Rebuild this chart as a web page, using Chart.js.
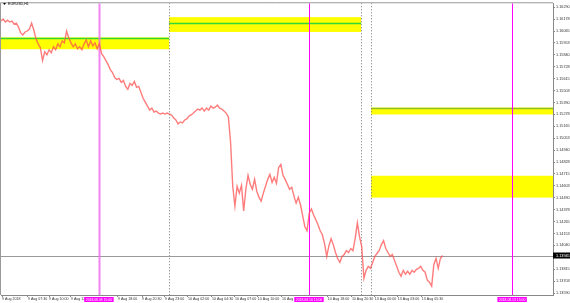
<!DOCTYPE html>
<html><head><meta charset="utf-8">
<script src="https://cdn.jsdelivr.net/npm/chart.js@4/dist/chart.umd.min.js"></script>
<style>html,body{margin:0;padding:0;background:#fff;overflow:hidden}#wrap{width:570px;height:303px;position:relative}</style>
</head><body><div id="wrap"><canvas id="c" width="570" height="303"></canvas></div>
<script>
const symbolTitle = "EURUSD,H1";
const closes = [
1.16159,1.16178,1.16150,1.16168,1.16150,1.16159,1.16131,1.16140,1.16103,1.16047,
1.16028,1.16056,1.16065,1.16084,1.16140,1.16075,1.15991,1.15944,1.15907,1.15785,
1.15869,1.15841,1.15888,1.15860,1.15916,1.15888,1.15944,1.15916,1.15972,1.15953,
1.16065,1.16000,1.15953,1.15916,1.15944,1.15897,1.15916,1.15888,1.15944,1.15981,
1.15916,1.15972,1.15925,1.15953,1.15897,1.15944,1.15851,1.15823,1.15785,1.15748,
1.15701,1.15673,1.15626,1.15608,1.15617,1.15580,1.15598,1.15542,1.15514,1.15570,
1.15552,1.15589,1.15533,1.15542,1.15486,1.15430,1.15393,1.15356,1.15318,1.15337,
1.15300,1.15309,1.15290,1.15281,1.15290,1.15281,1.15290,1.15281,1.15272,1.15244,
1.15225,1.15188,1.15206,1.15197,1.15225,1.15234,1.15262,1.15272,1.15290,1.15309,
1.15328,1.15318,1.15337,1.15309,1.15337,1.15318,1.15356,1.15337,1.15346,1.15365,
1.15337,1.15328,1.15309,1.15290,1.15253,1.15019,1.14599,1.14412,1.14599,1.14534,
1.14608,1.14366,1.14571,1.14702,1.14618,1.14571,1.14664,1.14552,1.14496,1.14459,
1.14534,1.14599,1.14664,1.14711,1.14636,1.14683,1.14627,1.14777,1.14805,1.14702,
1.14664,1.14618,1.14571,1.14590,1.14506,1.14440,1.14496,1.14422,1.14319,1.14216,
1.14179,1.14347,1.14384,1.14328,1.14282,1.14235,1.14179,1.14141,1.14057,1.13936,
1.14039,1.14104,1.14048,1.13973,1.13917,1.13880,1.13936,1.13955,1.13992,1.13973,
1.14011,1.13992,1.14104,1.14254,1.14123,1.14029,1.13730,1.13805,1.13843,1.13824,
1.13880,1.13936,1.13964,1.13992,1.14048,1.14085,1.14011,1.13973,1.13936,1.13955,
1.13899,1.13843,1.13787,1.13749,1.13805,1.13768,1.13796,1.13768,1.13805,1.13787,
1.13815,1.13824,1.13843,1.13805,1.13787,1.13712,1.13693,1.13656,1.13861,1.13917,
1.13824,1.13917,1.13945
];
const currentPrice = 1.13945;
const yTickValues = [1.16290,1.16178,1.16065,1.15953,1.15840,1.15728,1.15615,1.15503,1.15390,1.15278,
  1.15165,1.15053,1.14940,1.14828,1.14715,1.14603,1.14490,1.14378,1.14265,1.14153,1.14040,1.13928,1.13815,1.13703,1.13590];
const xTickBars = [0.5,12.3,22,32,53.5,64.5,75,85.5,96.5,107,117.5,128.5,149.5,160.5,171,181.5,192.5];
const xTickLabels = ["9 Aug 2018","9 Aug 07:30","9 Aug 10:00","9 Aug 12:30","9 Aug 18:00","9 Aug 20:30","9 Aug 23:00",
  "10 Aug 02:00","10 Aug 04:30","10 Aug 07:00","10 Aug 10:00","10 Aug 12:30","10 Aug 18:00","10 Aug 20:30",
  "13 Aug 00:00","13 Aug 03:00","13 Aug 05:30"];
const markerBars = [44.8, 140.9, 233.8];
const markerLabels = ["2018.08.09 15:00","2018.08.10 15:00","2018.08.13 15:00"];
const separatorBars = [76.9, 164.7, 169.3];
const zoneStartBars = [-1, 76.9, 169.3, 169.3];
const zoneEndBars = [76.9, 164.7, 253, 253];
const zoneHighs = [1.16005, 1.16196, 1.15342, 1.14698];
const zoneLows = [1.15893, 1.16056, 1.15277, 1.14492];
const zoneLevels = [1.16000, 1.16140, 1.15338, null];

const FONT = "'Liberation Sans', Arial, sans-serif";

const overlay = {
  id: 'overlay',
  beforeDatasetsDraw(chart) {
    const {ctx, chartArea: a, scales: {x, y}} = chart;
    ctx.save();
    ctx.beginPath(); ctx.rect(a.left, a.top, a.right - a.left, a.bottom - a.top); ctx.clip();
    for (let i = 0; i < zoneHighs.length; i++) {
      const x0 = x.getPixelForValue(zoneStartBars[i]), x1 = x.getPixelForValue(zoneEndBars[i]);
      const y0 = y.getPixelForValue(zoneHighs[i]), y1 = y.getPixelForValue(zoneLows[i]);
      ctx.fillStyle = '#ffff00';
      ctx.fillRect(x0, y0, x1 - x0, y1 - y0);
      if (zoneLevels[i] !== null) {
        const yl = Math.round(y.getPixelForValue(zoneLevels[i])) + 0.5;
        ctx.strokeStyle = i === 2 ? '#8fbf20' : '#33d633';
        ctx.lineWidth = 1.5;
        ctx.beginPath(); ctx.moveTo(x0, yl); ctx.lineTo(x1, yl); ctx.stroke();
      }
    }
    ctx.strokeStyle = '#777'; ctx.lineWidth = 1; ctx.setLineDash([1, 2]);
    separatorBars.forEach(b => {
      const px = Math.round(x.getPixelForValue(b)) + 0.5;
      ctx.beginPath(); ctx.moveTo(px, a.top); ctx.lineTo(px, a.bottom); ctx.stroke();
    });
    ctx.setLineDash([]);
    const yc = Math.round(y.getPixelForValue(currentPrice)) + 0.5;
    ctx.strokeStyle = '#999'; ctx.lineWidth = 1;
    ctx.beginPath(); ctx.moveTo(a.left, yc); ctx.lineTo(a.right, yc); ctx.stroke();
    markerBars.forEach((b, i) => {
      const px = Math.round(x.getPixelForValue(b)) + 0.5;
      ctx.strokeStyle = i === 0 ? 'rgba(240,110,240,0.85)' : '#ff00ff';
      ctx.lineWidth = i === 0 ? 2 : 1;
      ctx.beginPath(); ctx.moveTo(px, a.top); ctx.lineTo(px, a.bottom); ctx.stroke();
    });
    ctx.restore();
  },
  afterDraw(chart) {
    const {ctx, chartArea: a, scales: {x, y}} = chart;
    ctx.save();
    ctx.strokeStyle = '#999'; ctx.lineWidth = 1;
    ctx.beginPath(); ctx.moveTo(a.left - 0.5, a.bottom); ctx.lineTo(a.left - 0.5, a.top - 0.5); ctx.lineTo(a.right, a.top - 0.5); ctx.stroke();
    ctx.fillStyle = '#000';
    ctx.font = "3.6px " + FONT;
    ctx.textBaseline = 'middle'; ctx.textAlign = 'left';
    ctx.beginPath(); ctx.moveTo(3, 3); ctx.lineTo(6, 3); ctx.lineTo(4.5, 5); ctx.closePath(); ctx.fill();
    ctx.fillText(symbolTitle, 8, 4.2);
    ctx.font = "3.4px " + FONT;
    ctx.textAlign = 'center';
    markerBars.forEach((b, i) => {
      const px = x.getPixelForValue(b);
      const w = ctx.measureText(markerLabels[i]).width + 3;
      ctx.fillStyle = '#ff00ff';
      ctx.fillRect(px - w / 2, a.bottom + 2, w, 5);
      ctx.fillStyle = '#fff';
      ctx.fillText(markerLabels[i], px, a.bottom + 4.6);
    });
    const yc = y.getPixelForValue(currentPrice);
    ctx.fillStyle = '#000';
    ctx.fillRect(a.right, yc - 3, 570 - a.right, 6);
    ctx.fillStyle = '#fff'; ctx.textAlign = 'left'; ctx.font = "3.8px " + FONT;
    ctx.fillText(currentPrice.toFixed(5), a.right + 3, yc + 0.2);
    ctx.restore();
  }
};

new Chart(document.getElementById('c'), {
  type: 'line',
  data: {
    datasets: [{
      data: closes.map((v, i) => ({x: i, y: v})),
      borderColor: 'rgba(255,80,80,0.75)',
      borderWidth: 1.4,
      pointRadius: 0,
      tension: 0,
      fill: false
    }]
  },
  options: {
    responsive: false,
    animation: false,
    devicePixelRatio: 1,
    layout: {padding: {left: 1, top: 1, right: 0, bottom: 0}},
    plugins: {legend: {display: false}, tooltip: {enabled: false}},
    scales: {
      x: {
        type: 'linear', position: 'bottom', min: 0, max: 252.5,
        afterFit: s => { s.height = 8; },
        afterBuildTicks: s => { s.ticks = xTickBars.map(v => ({value: v})); },
        ticks: {autoSkip: false, maxRotation: 0, minRotation: 0, align: 'start', padding: 0,
          font: {size: 3.6, family: FONT}, color: '#333',
          callback: (v, i) => xTickLabels[i]},
        grid: {drawOnChartArea: false, drawTicks: true, tickLength: 2, color: '#888'},
        border: {color: '#888'}
      },
      y: {
        type: 'linear', position: 'right', min: 1.13572, max: 1.16327,
        afterFit: s => { s.width = 17; },
        afterBuildTicks: s => { s.ticks = yTickValues.map(v => ({value: v})); },
        ticks: {autoSkip: false, padding: 1, font: {size: 3.8, family: FONT}, color: '#333',
          callback: v => Number(v).toFixed(5)},
        grid: {drawOnChartArea: false, drawTicks: true, tickLength: 2, color: '#888'},
        border: {color: '#888'}
      }
    }
  },
  plugins: [overlay]
});
</script></body></html>
